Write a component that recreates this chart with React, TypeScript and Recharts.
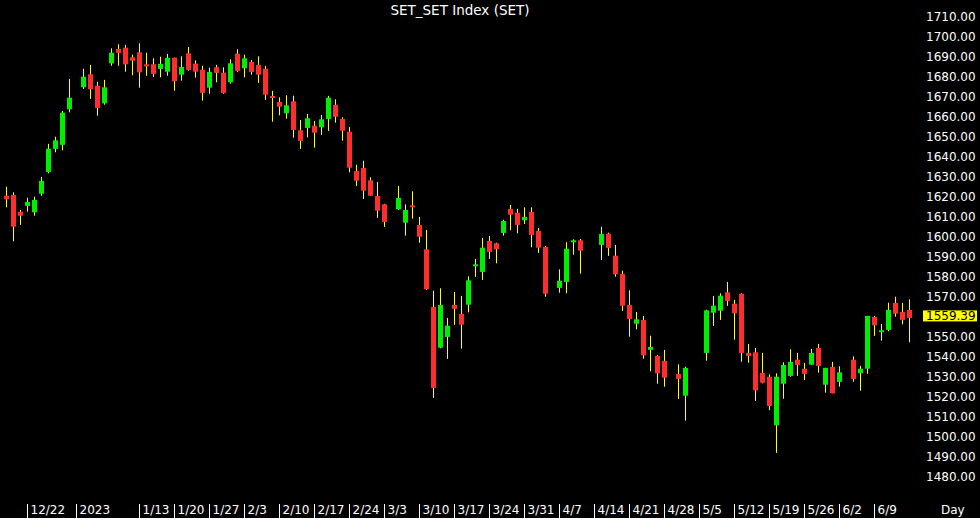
import { ComposedChart, Bar, XAxis, YAxis } from 'recharts';

// daily OHLC, one slot per trading day (null = market holiday gap)
const openPx = [
  1620.5, 1620.9, 1612.4, 1615.4, 1612.2, 1621.5, 1632.4, 1643.9, 1645.9, 1663.7,
  null, 1674.7, 1681.2, 1675.5, 1666.7, 1686.7, 1693.9, 1694.5, 1689.7, 1692.2,
  1685.8, 1686.2, 1683.9, 1682.5, 1689.5, 1681.0, 1691.7, 1686.5, 1683.5, 1674.5,
  1684.7, 1682.0, 1677.2, 1691.5, 1684.2, 1687.4, 1685.9, 1684.0, 1670.0, 1667.4,
  1661.7, 1667.7, 1653.2, 1654.4, 1655.5, 1654.7, 1658.9, 1665.9, 1658.9, 1652.5,
  1632.9, 1634.4, 1628.2, 1620.4, 1616.2, null, 1613.7, 1607.0, 1615.5, 1605.9,
  1593.7, 1564.9, 1544.5, 1549.9, 1565.9, 1561.4, 1566.0, 1585.6, 1582.4, 1597.9,
  1596.7, 1601.9, 1613.9, 1612.0, 1608.2, 1612.4, 1602.9, 1594.9, null, 1574.4,
  1577.4, 1597.6, 1598.2, null, null, 1595.9, 1601.5, 1590.5, 1581.4, 1565.9,
  1556.5, 1558.4, 1543.4, 1540.4, 1537.9, null, 1531.4, 1520.5, null, null,
  1541.9, 1562.0, 1563.0, 1572.2, 1566.5, 1571.5, 1541.9, 1542.2, 1531.9, 1530.0,
  1505.7, 1526.5, 1530.4, 1538.5, 1534.0, 1536.0, 1544.4, 1526.0, 1534.9, 1527.4,
  null, 1538.5, 1531.7, 1534.0, 1559.9, 1552.5, 1553.4, 1566.9, 1562.4, 1563.4,
];
const highPx = [
  1625.0, 1622.2, 1613.4, 1619.5, 1620.0, 1629.9, 1646.4, 1650.0, 1662.9, 1678.9,
  null, 1684.0, 1685.9, 1677.5, 1678.4, 1694.2, 1696.2, 1695.9, 1691.0, 1696.7,
  1692.0, 1689.2, 1690.0, 1691.4, 1689.6, 1690.2, 1694.9, 1688.2, 1685.5, 1684.5,
  1685.9, 1684.7, 1688.7, 1693.7, 1691.0, 1688.4, 1690.2, 1685.4, 1672.9, 1669.7,
  1670.7, 1670.5, 1658.4, 1661.4, 1657.9, 1660.9, 1670.4, 1668.7, 1659.7, 1654.9,
  1636.0, 1638.0, 1629.7, 1627.4, 1616.4, null, 1625.4, 1616.2, 1622.7, 1609.9,
  1603.4, 1573.0, 1574.2, 1559.4, 1572.4, 1570.4, 1580.2, 1588.9, 1599.4, 1600.4,
  1597.0, 1608.5, 1615.9, 1613.9, 1614.7, 1614.7, 1604.4, 1595.4, null, 1583.7,
  1597.2, 1598.7, 1598.9, null, null, 1605.0, 1602.0, 1595.9, 1583.0, 1573.2,
  1562.4, 1560.4, 1550.5, 1540.9, 1543.4, null, 1536.2, 1535.0, null, null,
  1563.5, 1570.4, 1571.7, 1577.4, 1568.4, 1571.7, 1546.4, 1544.4, 1541.9, 1531.2,
  1531.7, 1537.2, 1543.7, 1541.9, 1536.9, 1543.9, 1546.4, 1534.4, 1537.4, 1535.2,
  null, 1540.2, 1535.4, 1560.4, 1560.4, 1556.4, 1567.0, 1570.0, 1566.9, 1568.7,
];
const lowPx = [
  1614.7, 1597.7, 1605.9, 1612.5, 1610.5, 1620.5, 1631.7, 1642.2, 1643.2, 1662.2,
  null, 1673.9, 1668.9, 1660.5, 1666.0, 1685.5, 1685.5, 1682.5, 1680.7, 1674.5,
  1680.5, 1679.9, 1679.7, 1680.5, 1673.0, 1678.0, 1683.0, 1679.5, 1668.0, 1671.5,
  1677.2, 1671.5, 1676.5, 1682.4, 1679.7, 1681.0, 1676.9, 1668.4, 1657.5, 1660.7,
  1659.0, 1649.5, 1643.9, 1649.7, 1644.5, 1650.9, 1652.9, 1657.0, 1648.0, 1632.2,
  1625.4, 1618.9, 1620.4, 1609.4, 1604.9, null, 1613.4, 1600.5, 1609.0, 1597.0,
  1573.4, 1519.4, 1544.2, 1538.9, 1555.9, 1544.0, 1562.2, 1579.9, 1578.4, 1588.9,
  1586.7, 1600.5, 1603.2, 1601.7, 1606.4, 1594.7, 1591.9, 1570.0, null, 1572.0,
  1571.7, 1591.0, 1581.5, null, null, 1588.4, 1590.4, 1580.0, 1562.9, 1550.0,
  1553.7, 1539.0, 1532.7, 1526.5, 1525.0, null, 1518.9, 1508.0, null, null,
  1538.0, 1555.4, 1558.4, 1565.4, 1548.5, 1537.5, 1537.0, 1517.9, 1526.7, 1513.2,
  1491.9, 1519.0, 1530.0, 1530.4, 1528.4, 1535.9, 1532.0, 1522.0, 1521.7, 1525.0,
  null, 1527.5, 1523.0, 1531.4, 1550.4, 1548.0, 1552.7, 1560.0, 1556.2, 1547.2,
];
const closePx = [
  1618.7, 1605.0, 1610.5, 1617.4, 1618.4, 1627.9, 1644.0, 1648.2, 1662.0, 1669.5,
  null, 1680.0, 1673.7, 1664.4, 1674.7, 1692.0, 1691.9, 1686.2, 1688.0, 1682.2,
  1685.6, 1681.4, 1686.4, 1689.4, 1677.7, 1684.9, 1683.4, 1682.5, 1671.9, 1682.4,
  1681.9, 1671.9, 1686.7, 1682.9, 1689.2, 1682.4, 1681.0, 1671.0, 1669.7, 1665.0,
  1665.7, 1653.4, 1647.9, 1659.2, 1652.0, 1658.7, 1669.5, 1660.0, 1653.0, 1634.5,
  1628.0, 1623.0, 1620.5, 1613.0, 1607.4, null, 1619.4, 1613.4, 1614.9, 1600.0,
  1573.7, 1524.4, 1565.9, 1555.5, 1564.0, 1556.0, 1578.2, 1585.8, 1594.5, 1592.4,
  1593.7, 1607.9, 1611.0, 1605.9, 1609.9, 1600.9, 1594.5, 1571.5, null, 1578.0,
  1594.0, 1597.8, 1593.0, null, null, 1601.4, 1594.4, 1581.2, 1565.5, 1558.9,
  1558.7, 1540.7, 1544.9, 1531.7, 1529.5, null, 1528.9, 1534.4, null, null,
  1563.2, 1565.5, 1570.5, 1567.9, 1561.7, 1541.9, 1540.4, 1523.2, 1527.0, 1515.4,
  1530.0, 1535.9, 1537.4, 1535.9, 1531.4, 1541.9, 1535.4, 1534.4, 1521.7, 1532.2,
  null, 1528.9, 1534.0, 1560.4, 1555.7, 1553.0, 1563.4, 1561.5, 1558.4, 1559.39,
];

const tickDays = [3, 10, 19, 24, 29, 34, 39, 44, 49, 54, 59, 64, 69, 74, 79, 84, 89, 94, 99, 104, 109, 114, 119, 124];
const tickLabels = [
  '12/22', '2023', '1/13', '1/20', '1/27', '2/3', '2/10', '2/17', '2/24', '3/3', '3/10', '3/17',
  '3/24', '3/31', '4/7', '4/14', '4/21', '4/28', '5/5', '5/12', '5/19', '5/26', '6/2', '6/9',
];
const priceTicks = [
  1480, 1490, 1500, 1510, 1520, 1530, 1540, 1550, 1570, 1580, 1590, 1600,
  1610, 1620, 1630, 1640, 1650, 1660, 1670, 1680, 1690, 1700, 1710,
];
const lastClose = 1559.39;

const rows = openPx.map((o, i) => ({
  i,
  o,
  h: highPx[i],
  l: lowPx[i],
  c: closePx[i],
  range: o == null ? null : [lowPx[i], highPx[i]],
}));

const FONT = '"DejaVu Sans", Verdana, sans-serif';

function Candle(props: any) {
  const { x, y, width, height, payload } = props;
  if (!payload || payload.o == null) return null;
  const { o, h, l, c } = payload;
  const top = height < 0 ? y + height : y;
  const span = Math.abs(height);
  const ppu = h > l ? span / (h - l) : 0;
  const yOf = (v: number) => top + (h - v) * ppu;
  const cx = x + width / 2;
  let bTop = yOf(Math.max(o, c));
  let bH = yOf(Math.min(o, c)) - bTop;
  if (bH < 2) {
    bTop -= (2 - bH) / 2;
    bH = 2;
  }
  const up = c >= o;
  return (
    <g>
      <rect x={cx - 0.5} y={top} width={1} height={span} fill="#ffff00" />
      <rect x={cx - 2.5} y={bTop} width={5} height={bH} fill={up ? '#00ee00' : '#ff2d2d'} />
    </g>
  );
}

function DayTick(props: any) {
  const { x, payload } = props;
  const k = tickDays.indexOf(payload.value);
  if (k < 0) return <g />;
  return (
    <g>
      <line x1={x} x2={x} y1={504} y2={518} stroke="#ffffff" strokeWidth={1} />
      <text x={x + 3} y={510} fill="#ffffff" fontSize={12} fontFamily={FONT} dominantBaseline="central">
        {tickLabels[k]}
      </text>
    </g>
  );
}

function PriceTick(props: any) {
  const { y, payload } = props;
  const v = payload.value;
  if (v === lastClose) {
    return (
      <g>
        <rect x={923} y={y - 7.5} width={54} height={11} fill="#ffff00" />
        <text x={926} y={y - 2} fill="#000000" fontSize={12} fontFamily={FONT} dominantBaseline="central">
          {v.toFixed(2)}
        </text>
      </g>
    );
  }
  return (
    <text x={926} y={y} fill="#ffffff" fontSize={12} fontFamily={FONT} dominantBaseline="central">
      {v.toFixed(2)}
    </text>
  );
}

export default function App() {
  return (
    <div style={{ position: 'fixed', left: 0, top: 0, width: 980, height: 518, background: '#000000' }}>
      <div
        style={{
          position: 'absolute',
          left: 0,
          top: 0,
          width: 920,
          lineHeight: '20px',
          textAlign: 'center',
          color: '#ffffff',
          fontFamily: FONT,
          fontSize: 13.5,
        }}
      >
        SET_SET Index (SET)
      </div>
      <div
        style={{
          position: 'absolute',
          left: 941,
          top: 500,
          lineHeight: '20px',
          color: '#ffffff',
          fontFamily: FONT,
          fontSize: 12,
        }}
      >
        Day
      </div>
      <ComposedChart
        width={980}
        height={518}
        data={rows}
        barCategoryGap={0}
        margin={{ top: 0, right: 0, bottom: 0, left: 3 }}
        style={{ position: 'absolute', left: 0, top: 0 }}
      >
        <XAxis
          dataKey="i"
          type="category"
          interval={0}
          height={28}
          axisLine={false}
          tickLine={false}
          tick={<DayTick />}
        />
        <YAxis
          orientation="right"
          width={67}
          domain={[1473.35, 1718.35]}
          ticks={[...priceTicks, lastClose]}
          interval={0}
          axisLine={false}
          tickLine={false}
          tick={<PriceTick />}
          allowDataOverflow
        />
        <Bar dataKey="range" shape={<Candle />} isAnimationActive={false} />
      </ComposedChart>
    </div>
  );
}
